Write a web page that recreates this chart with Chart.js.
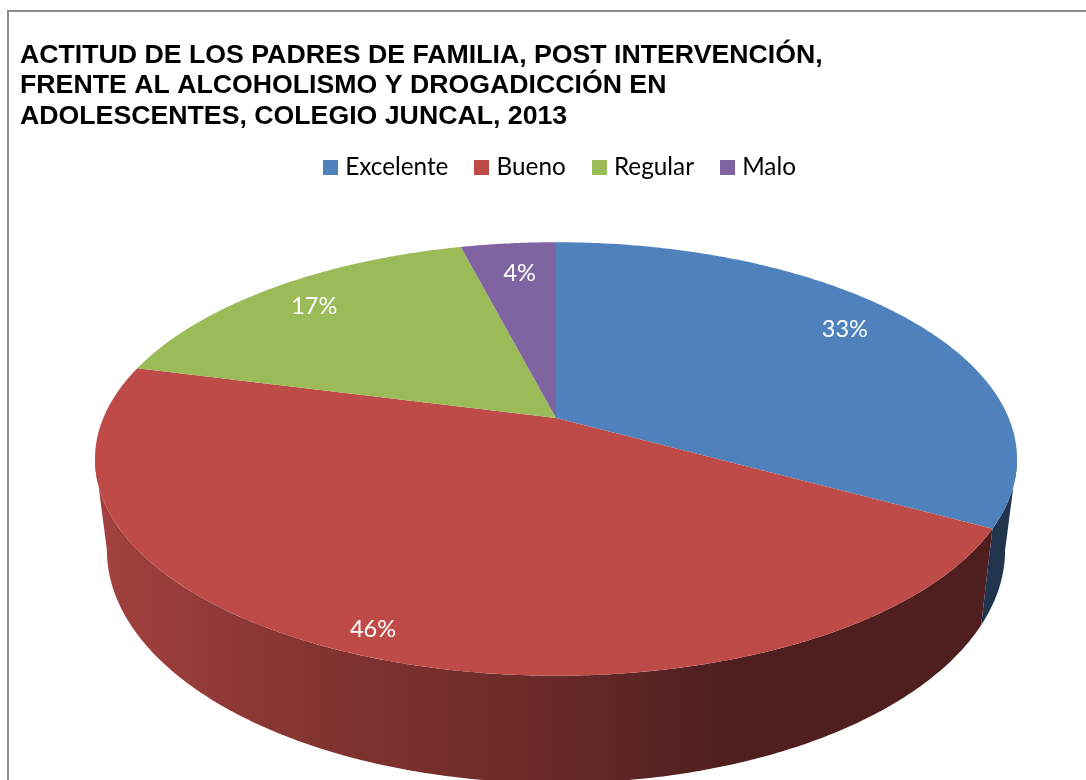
<!DOCTYPE html>
<html lang="es">
<head>
<meta charset="utf-8">
<title>Actitud de los padres de familia</title>
<script src="https://cdn.jsdelivr.net/npm/chart.js@4"></script>
<style>
html,body{margin:0;padding:0;background:#fff;overflow:hidden}
#wrap{position:relative;width:1086px;height:780px}
#frame{position:absolute;left:7px;top:10px;right:0;bottom:0;border-left:2px solid #8c8c8c;border-top:2px solid #8c8c8c;pointer-events:none}
canvas{display:block}
</style>
</head>
<body>
<div id="wrap"><canvas id="c" width="1086" height="780"></canvas><div id="frame"></div></div>
<script>
const titleLines = [
  'ACTITUD DE LOS PADRES DE FAMILIA, POST INTERVENCIÓN,',
  'FRENTE AL ALCOHOLISMO Y DROGADICCIÓN EN',
  'ADOLESCENTES, COLEGIO JUNCAL, 2013'
];
const categories = ['Excelente', 'Bueno', 'Regular', 'Malo'];
const percentages = [33, 46, 17, 4];
const sliceColors = ['#4F81BD', '#BE4B48', '#9BBB59', '#8064A2'];

// Perspective view of the tilted disc: top face and bottom rim.
const topRim = { cx: 556, cy: 418, rx: 452.7, ry: 209, k: 0.189 };
const bottomRim = { cx: 556, cy: 506, rx: 441, ry: 224.7, k: 0.189 };
// Where each label sits on the disc (fraction of radius, angular nudge).
const labelSpots = [
  { r: 0.834, nudge: -0.054 },
  { r: 0.915, nudge: 0.003 },
  { r: 0.84, nudge: 0 },
  { r: 0.80, nudge: 0.01 }
];
// Shading of the wall, left to right.
const wallShade = [[97, 0.86], [300, 0.70], [550, 0.55], [730, 0.41], [1017, 0.41]];

function project(view, angle, r = 1) {
  const x = r * Math.cos(angle), y = r * Math.sin(angle);
  const w = 1 - view.k * y;
  return { x: view.cx + view.rx * x / w, y: view.cy + view.ry * y / w };
}
function tracePath(ctx, view, a0, a1, first) {
  const steps = Math.max(8, Math.ceil(Math.abs(a1 - a0) / 0.01));
  for (let i = 0; i <= steps; i++) {
    const p = project(view, a0 + (a1 - a0) * i / steps);
    if (i === 0 && first) ctx.moveTo(p.x, p.y); else ctx.lineTo(p.x, p.y);
  }
}
function rgb(hex) {
  return [1, 3, 5].map(i => parseInt(hex.substr(i, 2), 16));
}

// Slices keep the angles the library computes; only the drawing is projected.
Chart.ArcElement.prototype.draw = function (ctx) {
  const { startAngle, endAngle, options } = this;
  const c = project(topRim, 0, 0);
  ctx.save();
  ctx.beginPath();
  ctx.moveTo(c.x, c.y);
  tracePath(ctx, topRim, startAngle, endAngle, false);
  ctx.closePath();
  ctx.fillStyle = options.backgroundColor;
  ctx.fill();
  ctx.restore();
};

const wallPlugin = {
  id: 'wall',
  beforeDatasetsDraw(chart) {
    const ctx = chart.ctx;
    // Only the front of the wall shows, between the two silhouette tangents.
    const frontStart = Math.asin(topRim.k);
    const frontEnd = Math.PI - frontStart;
    chart.getDatasetMeta(0).data.forEach((arc, i) => {
      const a0 = Math.max(arc.startAngle, frontStart);
      const a1 = Math.min(arc.endAngle, frontEnd);
      if (a1 <= a0) return;
      const [r, g, b] = rgb(sliceColors[i]);
      const x0 = wallShade[0][0], x1 = wallShade[wallShade.length - 1][0];
      const grad = ctx.createLinearGradient(x0, 0, x1, 0);
      wallShade.forEach(([x, f]) => grad.addColorStop((x - x0) / (x1 - x0),
        `rgb(${Math.round(r * f)},${Math.round(g * f)},${Math.round(b * f)})`));
      ctx.save();
      ctx.beginPath();
      tracePath(ctx, topRim, a0, a1, true);
      tracePath(ctx, bottomRim, a1, a0, false);
      ctx.closePath();
      ctx.fillStyle = grad;
      ctx.fill();
      ctx.restore();
    });
  },
  afterDatasetsDraw(chart) {
    const ctx = chart.ctx;
    ctx.save();
    ctx.fillStyle = '#fff';
    ctx.font = '23.5px Lato, sans-serif';
    ctx.textAlign = 'center';
    ctx.textBaseline = 'middle';
    chart.getDatasetMeta(0).data.forEach((arc, i) => {
      const mid = (arc.startAngle + arc.endAngle) / 2 + labelSpots[i].nudge;
      const p = project(topRim, mid, labelSpots[i].r);
      ctx.fillText(percentages[i] + '%', p.x, p.y);
    });
    ctx.restore();
  }
};

function legendSwatch(color) {
  const s = document.createElement('canvas');
  s.width = 15; s.height = 15;
  const g = s.getContext('2d');
  g.fillStyle = color;
  g.fillRect(0, 0, 15, 15);
  return s;
}

new Chart(document.getElementById('c'), {
  type: 'pie',
  data: {
    labels: categories,
    datasets: [{ data: percentages, backgroundColor: sliceColors, borderWidth: 0 }]
  },
  plugins: [wallPlugin],
  options: {
    responsive: false,
    animation: false,
    layout: { padding: { left: 20, top: 40, right: -18, bottom: 0 } },
    plugins: {
      tooltip: { enabled: false },
      title: {
        display: true,
        text: titleLines,
        align: 'start',
        color: '#000',
        font: { family: '"Liberation Sans", Arial, sans-serif', size: 26.7, weight: 'bold', lineHeight: 1.15 },
        padding: { top: 0, bottom: -8 }
      },
      legend: {
        display: true,
        position: 'top',
        align: 'center',
        labels: {
          color: '#000',
          font: { family: 'Lato, sans-serif', size: 24.3 },
          usePointStyle: true,
          pointStyleWidth: 5,
          boxHeight: 15,
          padding: 31,
          generateLabels(chart) {
            return categories.map((name, i) => ({
              text: name,
              fillStyle: sliceColors[i],
              strokeStyle: sliceColors[i],
              lineWidth: 0,
              pointStyle: legendSwatch(sliceColors[i]),
              index: i
            }));
          }
        }
      }
    }
  }
});
</script>
</body>
</html>
